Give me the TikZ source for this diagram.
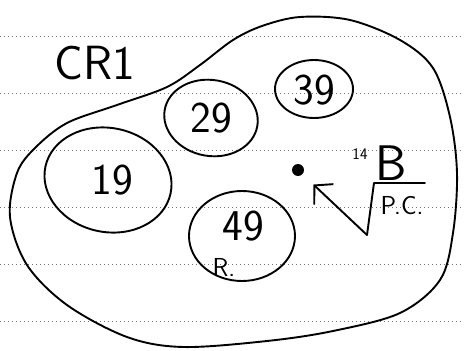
\documentclass[tikz,border=0pt]{standalone}
\usetikzlibrary{shapes.geometric,arrows.meta}
\begin{document}
\begin{tikzpicture}[x=1pt,y=-1pt,
  ink/.style={draw=black,line width=1.9pt,line cap=round,line join=round},
  paperline/.style={draw=black!55,line width=1pt,dash pattern=on 1pt off 3pt},
  ring/.style={ellipse,ink,inner sep=0pt},
  lab/.style={font=\sffamily\fontsize{44}{44}\selectfont,inner sep=0pt},
  small/.style={font=\sffamily\fontsize{26}{26}\selectfont,inner sep=0pt},
  dotnode/.style={circle,fill=black,inner sep=0pt,minimum size=12pt}]
\useasboundingbox (0,0) rectangle (464,351);
\fill[white] (0,0) rectangle (464,351);
\foreach \y in {36,93,150,207,264,321} \draw[paperline] (0,\y) -- (464,\y);
% outer blob
\draw[ink] plot[smooth cycle,tension=0.55] coordinates {
 (233,40) (262,26) (300,17) (350,20) (400,40) (433,68) (450,117) (457,173)
 (453,233) (440,280) (400,313) (333,331) (267,341) (183,347) (127,337)
 (67,305) (27,265) (10,217) (17,173) (35,148) (67,123) (117,105) (167,87) (200,65)};
% title
\node[font=\sffamily\fontsize{48}{48}\selectfont,inner sep=0pt] (cr) at (95,63) {CR1};
% rings
\node[ring,minimum width=128pt,minimum height=104pt,rotate=-12] (c1) at (108,180) {};
\node[lab] (t1) at (112,180) {19};
\node[ring,minimum width=94pt,minimum height=76pt,rotate=-10] (c2) at (211,118) {};
\node[lab] (t2) at (211,118) {29};
\node[ring,minimum width=78pt,minimum height=58pt] (c3) at (314,89) {};
\node[lab] (t3) at (314,90) {39};
\node[ring,minimum width=106pt,minimum height=90pt] (c4) at (242,236) {};
\node[lab] (t4) at (243,226) {49};
\node[small] (r4) at (224,267) {R.};
% dot and arrow
\node[dotnode] (dot) at (298,170) {};
\coordinate (v) at (367,235);
\coordinate (top) at (374,183);
\coordinate (bar) at (425,183);
\draw[ink,-{Straight Barb[length=13pt,width=28pt,line width=1.9pt]},shorten >=15pt] (v) -- (dot);
\draw[ink] (v) -- (top) -- (bar);
\node[font=\sffamily\fontsize{50}{50}\selectfont,inner sep=0pt,anchor=south] (b) at (391,181) {B};
\node[font=\sffamily\fontsize{16}{16}\selectfont,inner sep=0pt] (sup) at (360,154) {14};
\node[small] (pc) at (402,206) {P.C.};
\end{tikzpicture}
\end{document}
